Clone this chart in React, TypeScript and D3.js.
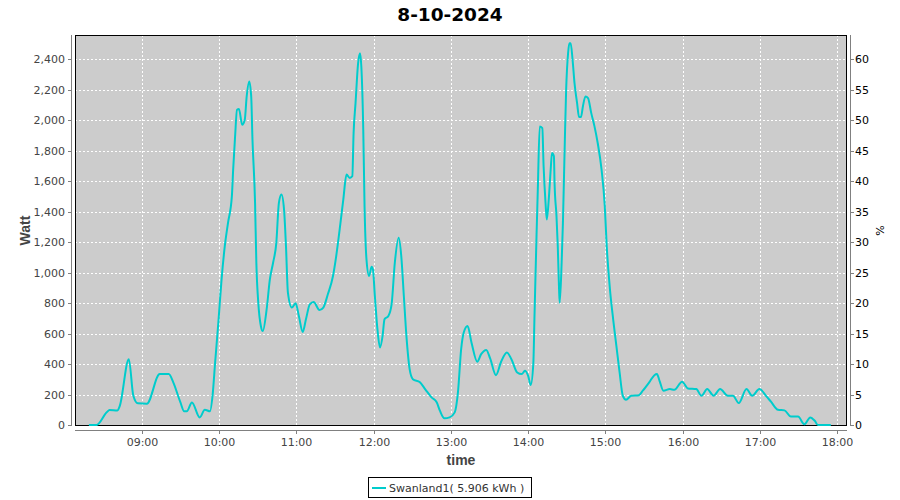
import React from "react";
import * as d3 from "d3";

const title = "8-10-2024";
const seriesName = "Swanland1( 5.906 kWh )";
const times = [
  "08:19:00","08:25:00","08:33:00","08:35:00","08:41:00","08:43:00","08:50:00","08:53:30","08:57:00","09:04:00",
  "09:14:00","09:21:00","09:24:30","09:30:00","09:33:00","09:35:00","09:39:00","09:45:00","09:49:00","09:53:00",
  "09:55:00","09:57:00","09:59:30","10:02:00","10:04:30","10:07:00","10:10:00","10:11:00","10:12:30","10:14:00",
  "10:15:30","10:18:00","10:20:00","10:21:30","10:23:30","10:25:00","10:26:00","10:28:00","10:29:00","10:30:30",
  "10:32:30","10:34:00","10:37:00","10:39:30","10:42:00","10:44:30","10:46:30","10:48:30","10:50:30","10:52:00",
  "10:53:30","10:56:30","10:59:30","11:02:00","11:05:00","11:07:30","11:10:30","11:13:30","11:18:00","11:21:00",
  "11:24:30","11:28:30","11:31:00","11:34:00","11:36:30","11:39:00","11:41:30","11:43:30","11:44:30","11:46:00",
  "11:48:00","11:49:30","11:50:30","11:52:00","11:53:00","11:54:30","11:56:30","11:58:30","11:59:30","12:01:00",
  "12:03:00","12:05:00","12:07:00","12:08:30","12:11:30","12:14:00","12:16:30","12:19:30","12:21:30","12:23:30",
  "12:25:30","12:28:00","12:30:30","12:36:00","12:40:00","12:45:00","12:49:00","12:51:30","12:55:00","12:59:00",
  "13:03:00","13:05:30","13:08:00","13:10:00","13:13:00","13:16:00","13:20:30","13:23:30","13:27:30","13:30:30",
  "13:35:00","13:39:00","13:43:30","13:47:00","13:51:30","13:55:00","13:57:30","14:00:00","14:02:00","14:04:00",
  "14:05:00","14:06:30","14:07:30","14:09:00","14:11:00","14:12:00","14:13:30","14:14:30","14:16:00","14:17:30",
  "14:18:30","14:20:00","14:20:30","14:22:00","14:23:00","14:24:00","14:24:30","14:26:00","14:27:00","14:28:30",
  "14:29:30","14:31:00","14:32:00","14:33:00","14:34:30","14:36:00","14:38:00","14:39:30","14:41:00","14:42:30",
  "14:44:30","14:46:30","14:49:00","14:51:30","14:54:00","14:57:00","14:59:30","15:01:00","15:03:30","15:06:00",
  "15:08:30","15:11:00","15:13:30","15:16:00","15:20:00","15:26:00","15:29:00","15:34:00","15:38:00","15:40:00",
  "15:42:00","15:45:00","15:50:00","15:53:30","15:59:30","16:04:00","16:10:30","16:14:30","16:19:00","16:24:00",
  "16:29:00","16:35:00","16:39:00","16:43:30","16:49:30","16:54:00","16:59:30","17:05:00","17:08:30","17:14:00",
  "17:19:00","17:24:00","17:29:30","17:34:30","17:39:00","17:42:30","17:45:00","17:49:00","17:55:00"
];
const watts = [
  0,0,85,98,95,126,432,192,142,140,
  334,334,280,150,90,90,148,50,100,90,
  192,410,672,956,1174,1327,1502,1676,1895,2069,
  2074,1971,2004,2157,2255,2157,1873,1458,1065,803,
  650,617,760,956,1065,1196,1458,1513,1414,1174,
  869,771,799,716,611,694,792,807,755,771,
  858,978,1109,1305,1480,1644,1622,1633,1917,2113,
  2375,2440,2353,1938,1436,1087,978,1039,1022,847,
  629,509,585,694,716,792,1065,1229,1109,847,
  585,367,301,280,236,181,149,94,44,50,
  83,214,498,607,650,542,415,465,493,437,
  327,415,476,432,345,334,356,323,262,400,
  738,1240,1545,1960,1949,1698,1458,1349,1480,1676,
  1786,1764,1589,1371,1174,891,803,1065,1327,1873,
  2200,2440,2506,2506,2397,2244,2113,2021,2021,2091,
  2157,2146,2047,1960,1851,1676,1436,1174,891,694,
  519,345,192,166,192,196,225,280,327,334,
  290,225,236,231,284,240,236,192,236,192,
  236,192,192,144,236,192,236,188,153,100,
  96,55,55,5,50,28,0,0,0
];
const xTickLabels = ["09:00","10:00","11:00","12:00","13:00","14:00","15:00","16:00","17:00","18:00"];
const yTicks = [0,200,400,600,800,1000,1200,1400,1600,1800,2000,2200,2400];
const pctTicks = [0,5,10,15,20,25,30,35,40,45,50,55,60];
const xDomain = ["08:08:13","18:07:32"];
const yMax = 2560;
const pctMax = 64;

export default function App() {
  const W = 900, H = 500;
  const left = 75, right = 847, top = 35, bottom = 426;
  const parse = d3.timeParse("%H:%M:%S");
  const parseHM = d3.timeParse("%H:%M");
  const x = d3.scaleTime().domain([parse(xDomain[0])!, parse(xDomain[1])!]).range([left, right]);
  const y = d3.scaleLinear().domain([0, yMax]).range([bottom - 1, top]);
  const yp = d3.scaleLinear().domain([0, pctMax]).range([bottom - 1, top]);
  const data = times.map((t, i) => ({ t: parse(t)!, v: watts[i] }));
  const line = d3.line<{ t: Date; v: number }>()
    .x(d => x(d.t)).y(d => y(d.v)).curve(d3.curveMonotoneX);
  const fmt = d3.format(",");
  const xt = xTickLabels.map(s => ({ s, px: Math.round(x(parseHM(s)!)) + 0.5 }));
  const font = "DejaVu Sans, sans-serif";
  const axisColor = "#808080";
  return (
    <svg width={W} height={H} style={{ position: "absolute", left: 0, top: 0, background: "#fff" }}>
      <text x={450} y={21} textAnchor="middle" fontFamily={font} fontWeight="bold" fontSize={18.5} fill="#000">{title}</text>
      <rect x={left} y={top} width={right - left} height={bottom - top} fill="#cccccc" />
      <defs>
        <clipPath id="pc"><rect x={left} y={top - 2} width={right - left} height={bottom - top + 2} /></clipPath>
      </defs>
      {yTicks.map(v => (
        <line key={"gy" + v} x1={left} x2={right} y1={Math.round(y(v)) + 0.5} y2={Math.round(y(v)) + 0.5}
          stroke="#fff" strokeWidth={1} strokeDasharray="2,2" />
      ))}
      {xt.map(d => (
        <line key={"gx" + d.s} x1={d.px} x2={d.px} y1={top} y2={bottom} stroke="#fff" strokeWidth={1} strokeDasharray="2,2" />
      ))}
      <rect x={left + 0.5} y={top + 0.5} width={right - left - 1} height={bottom - top - 1} fill="none" stroke="#000" strokeWidth={1} />
      <path d={line(data) || ""} fill="none" stroke="#00cccc" strokeWidth={2} clipPath="url(#pc)" strokeLinejoin="round" />
      {/* left axis */}
      <line x1={71.5} x2={71.5} y1={top} y2={bottom} stroke={axisColor} />
      {yTicks.map(v => (
        <g key={"ly" + v}>
          <line x1={68} x2={71} y1={Math.round(y(v)) + 0.5} y2={Math.round(y(v)) + 0.5} stroke={axisColor} />
          <text x={65} y={y(v) + 4} textAnchor="end" fontFamily={font} fontSize={11} fill="#444">{fmt(v)}</text>
        </g>
      ))}
      {/* right axis */}
      <line x1={850.5} x2={850.5} y1={top} y2={bottom} stroke={axisColor} />
      {pctTicks.map(v => (
        <g key={"ry" + v}>
          <line x1={851} x2={854} y1={Math.round(yp(v)) + 0.5} y2={Math.round(yp(v)) + 0.5} stroke={axisColor} />
          <text x={855} y={yp(v) + 4} textAnchor="start" fontFamily={font} fontSize={11} fill="#000">{v}</text>
        </g>
      ))}
      {/* bottom axis */}
      <line x1={left} x2={right} y1={430.5} y2={430.5} stroke={axisColor} />
      {xt.map(d => (
        <g key={"lx" + d.s}>
          <line x1={d.px} x2={d.px} y1={431} y2={434} stroke={axisColor} />
          <text x={d.px} y={446} textAnchor="middle" fontFamily={font} fontSize={11} fill="#444">{d.s}</text>
        </g>
      ))}
      <text x={(left + right) / 2} y={465} textAnchor="middle" fontFamily="Liberation Sans, Arial, sans-serif" fontWeight="bold" fontSize={14} fill="#444">time</text>
      <text transform={`translate(30,${(top + bottom) / 2}) rotate(-90)`} textAnchor="middle" fontFamily="Liberation Sans, Arial, sans-serif" fontWeight="bold" fontSize={14} fill="#444">Watt</text>
      <text transform={`translate(884,${(top + bottom) / 2}) rotate(-90)`} textAnchor="middle" fontFamily={font} fontSize={11} fill="#000">%</text>
      {/* legend */}
      <rect x={368.5} y={477.5} width={163} height={20} fill="#fff" stroke="#000" />
      <line x1={372} x2={386} y1={488} y2={488} stroke="#00cccc" strokeWidth={2} />
      <text x={389} y={492} fontFamily={font} fontSize={11} fill="#333">{seriesName}</text>
    </svg>
  );
}
